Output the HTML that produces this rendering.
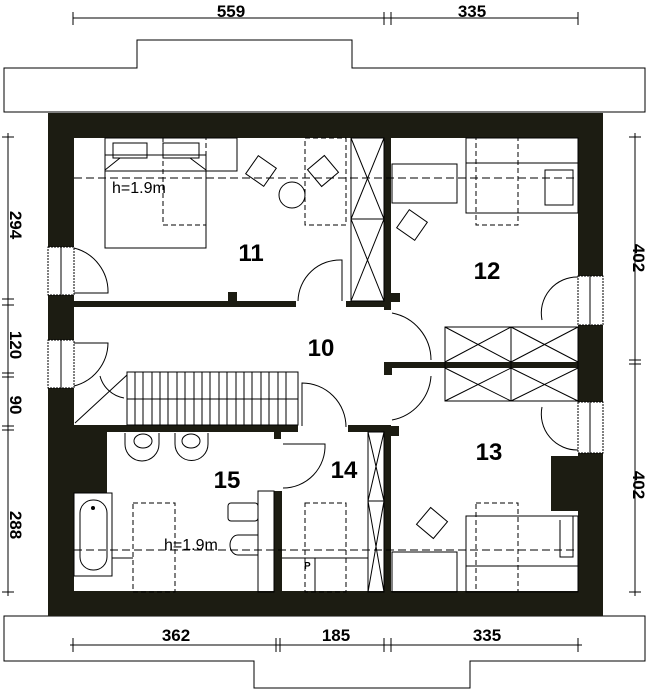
<!DOCTYPE html>
<html><head><meta charset="utf-8"><style>
html,body{margin:0;padding:0;background:#fff;}
svg{display:block}
.d{font-family:"Liberation Sans Narrow","Liberation Sans",sans-serif;font-weight:bold;font-size:17px;fill:#000}
.r{font-family:"Liberation Sans Narrow","Liberation Sans",sans-serif;font-weight:bold;font-size:24px;fill:#000}
</style></head><body>
<svg width="653" height="690" viewBox="0 0 653 690" xmlns="http://www.w3.org/2000/svg">
<g fill="none" stroke="#000" stroke-width="1">
<!-- roof top -->
<path d="M4,68 H137 V40 H352 V68 H645 V112 H4 Z" fill="#fff"/>
<!-- roof bottom -->
<path d="M4,616 H645 V661 H470 V688 H254 V661 H4 Z" fill="#fff"/>
<!-- top dims -->
<line x1="73" y1="18" x2="578" y2="18"/>
<line x1="73" y1="12" x2="73" y2="25"/><line x1="384" y1="12" x2="384" y2="25"/><line x1="391" y1="12" x2="391" y2="25"/><line x1="578" y1="12" x2="578" y2="25"/>
<!-- bottom dims -->
<line x1="70" y1="645" x2="582" y2="645"/>
<line x1="73" y1="638" x2="73" y2="652"/><line x1="276" y1="638" x2="276" y2="652"/><line x1="280" y1="638" x2="280" y2="652"/><line x1="384" y1="638" x2="384" y2="652"/><line x1="391" y1="638" x2="391" y2="652"/><line x1="578" y1="638" x2="578" y2="652"/>
<!-- left dims -->
<line x1="8" y1="133" x2="8" y2="596"/>
<line x1="2" y1="137" x2="14" y2="137"/><line x1="2" y1="299" x2="14" y2="299"/><line x1="2" y1="305" x2="14" y2="305"/><line x1="2" y1="373" x2="14" y2="373"/><line x1="2" y1="377" x2="14" y2="377"/><line x1="2" y1="426" x2="14" y2="426"/><line x1="2" y1="430" x2="14" y2="430"/><line x1="2" y1="592" x2="14" y2="592"/>
<!-- right dims -->
<line x1="635" y1="133" x2="635" y2="596"/>
<line x1="629" y1="137" x2="641" y2="137"/><line x1="629" y1="360" x2="641" y2="360"/><line x1="629" y1="364" x2="641" y2="364"/><line x1="629" y1="592" x2="641" y2="592"/>
</g>
<g class="d" text-anchor="middle">
<text x="231" y="17">559</text><text x="472" y="17">335</text>
<text x="176" y="641">362</text><text x="336" y="641">185</text><text x="487" y="641">335</text>
<text transform="translate(10,225) rotate(90)">294</text>
<text transform="translate(10,345) rotate(90)">120</text>
<text transform="translate(10,405) rotate(90)">90</text>
<text transform="translate(10,525) rotate(90)">288</text>
<text transform="translate(633,258) rotate(90)">402</text>
<text transform="translate(633,485) rotate(90)">402</text>
</g>
<!-- outer walls -->
<g fill="#1c1c12">
<rect x="48" y="113" width="555" height="25"/>
<rect x="48" y="591" width="555" height="25"/>
<rect x="48" y="113" width="26" height="134"/>
<rect x="48" y="295" width="26" height="45"/>
<rect x="48" y="388" width="26" height="228"/>
<rect x="578" y="113" width="25" height="163"/>
<rect x="578" y="325" width="25" height="77"/>
<rect x="578" y="453" width="25" height="163"/>
<rect x="551" y="456" width="27" height="55"/>
<!-- interior -->
<rect x="384" y="138" width="7" height="172"/>
<rect x="74" y="301" width="222" height="6"/>
<rect x="346" y="301" width="38" height="6"/>
<rect x="228" y="292" width="9" height="9"/>
<rect x="391" y="293" width="9" height="9"/>
<rect x="384" y="362" width="194" height="6"/>
<rect x="384" y="362" width="8" height="13"/>
<rect x="384" y="425" width="7" height="167"/>
<rect x="391" y="426" width="8" height="10"/>
<rect x="74" y="425" width="224" height="7"/>
<rect x="348" y="425" width="43" height="7"/>
<rect x="74" y="432" width="33" height="61"/>
<rect x="274" y="491" width="8" height="101"/>
<rect x="274" y="429" width="7" height="10"/>
</g>
<g fill="none" stroke="#000" stroke-width="1">
<!-- windows -->
<rect x="48" y="247" width="26" height="48" stroke-dasharray="2,1"/><line x1="61" y1="247" x2="61" y2="295"/>
<rect x="48" y="340" width="26" height="48" stroke-dasharray="2,1"/><line x1="61" y1="340" x2="61" y2="388"/>
<rect x="578" y="276" width="25" height="49" stroke-dasharray="2,1"/><line x1="590" y1="276" x2="590" y2="325"/>
<rect x="578" y="402" width="25" height="51" stroke-dasharray="2,1"/><line x1="590" y1="402" x2="590" y2="453"/>
<path d="M74,248 A45 45 0 0 1 108,293 H74"/>
<path d="M74,343 H108 A45 45 0 0 1 74,386"/>
<path d="M578,277 A36 36 0 0 0 542,320"/>
<path d="M542,407 A36 36 0 0 0 578,450"/>
<!-- doors -->
<path d="M342,301 V260 A42 42 0 0 0 298,301"/>
<path d="M392,313 A48 48 0 0 1 431,360"/>
<path d="M431,376 A48 48 0 0 1 392,420"/>
<path d="M302,426 V383 A44 44 0 0 1 346,427"/>
<path d="M283,444 H325 A42 42 0 0 1 283,488"/>
<!-- wardrobes -->
<rect x="351" y="138" width="33" height="163"/><line x1="351" y1="219" x2="384" y2="219"/>
<path d="M351,138 L384,219 M384,138 L351,219 M351,219 L384,301 M384,219 L351,301"/>
<rect x="445" y="327" width="133" height="74"/><line x1="511" y1="327" x2="511" y2="401"/>
<path d="M445,327 L511,362 M511,327 L445,362 M511,327 L578,362 M578,327 L511,362 M445,368 L511,401 M511,368 L445,401 M511,368 L578,401 M578,368 L511,401"/>
<rect x="368" y="432" width="16" height="160"/><line x1="368" y1="501" x2="384" y2="501"/>
<path d="M368,432 L384,501 M384,432 L368,501 M368,501 L384,592 M384,501 L368,592"/>
<!-- stairs -->
<rect x="127" y="372" width="171" height="53"/>
<line x1="127" y1="399" x2="298" y2="399"/>
<path d="M135,372V425M143,372V425M152,372V425M160,372V425M168,372V425M177,372V425M185,372V425M194,372V425M202,372V425M210,372V425M219,372V425M227,372V425M236,372V425M244,372V425M252,372V425M261,372V425M269,372V425M278,372V425M286,372V425"/>
<line x1="75" y1="423" x2="127" y2="375"/>
<path d="M100,376 A30 30 0 0 0 124,398"/>
<!-- room 11 furniture -->
<rect x="105" y="155" width="101" height="93"/>
<rect x="113" y="143" width="34" height="15"/><rect x="163" y="143" width="36" height="15"/>
<path d="M105,170 L120,158 M206,170 L190,158"/>
<rect x="105" y="138" width="132" height="33"/>
<rect x="163" y="138" width="43" height="87" stroke-dasharray="5,3"/>
<rect x="305" y="138" width="41" height="87" stroke-dasharray="5,3"/>
<circle cx="292" cy="195" r="13"/>
<rect x="250" y="160" width="22" height="22" transform="rotate(35 261 171)"/>
<rect x="312" y="160" width="22" height="22" transform="rotate(-40 323 171)"/>
<!-- room 12 -->
<rect x="392" y="164" width="65" height="39"/>
<rect x="466" y="138" width="112" height="75"/><line x1="466" y1="163" x2="578" y2="163"/>
<rect x="476" y="138" width="42" height="87" stroke-dasharray="5,3"/>
<path d="M545,170 H573 V205 H545 Z"/>
<rect x="401" y="214" width="22" height="22" transform="rotate(35 412 225)"/>
<!-- h line dashed -->
<line x1="74" y1="178" x2="578" y2="178" stroke-dasharray="8,4"/>
<line x1="74" y1="550" x2="578" y2="550" stroke-dasharray="8,4"/>
<!-- bathroom -->
<path d="M125,433 V444 A14 14 0 0 0 159,444 V433"/><ellipse cx="143" cy="441" rx="9" ry="7"/>
<path d="M175,433 V444 A14 14 0 0 0 208,444 V433"/><ellipse cx="191" cy="441" rx="9" ry="7"/>
<rect x="74" y="493" width="38" height="83"/>
<rect x="80" y="500" width="27" height="70" rx="13"/>
<rect x="228" y="503" width="30" height="18" rx="3"/>
<path d="M258,535 H238 A8 10 0 0 0 238,555 H258 Z"/>
<rect x="258" y="491" width="16" height="101"/>
<rect x="133" y="503" width="42" height="89" stroke-dasharray="5,3"/>
<rect x="305" y="503" width="41" height="89" stroke-dasharray="5,3"/>
<line x1="112" y1="558" x2="133" y2="558"/>
<line x1="282" y1="558" x2="368" y2="558"/><line x1="315" y1="558" x2="315" y2="592"/>
<!-- room 13 -->
<rect x="392" y="552" width="65" height="40"/>
<rect x="466" y="516" width="112" height="76"/><line x1="466" y1="566" x2="578" y2="566"/>
<rect x="476" y="503" width="42" height="89" stroke-dasharray="5,3"/>
<path d="M545,516 H573 V557 H560 V520"/>
<rect x="421" y="512" width="22" height="22" transform="rotate(40 432 523)"/>
</g>
<circle cx="93" cy="508" r="2"/>
<g font-family="Liberation Sans Narrow, Liberation Sans, sans-serif" font-size="16" fill="#000">
<text x="112" y="193">h=1.9m</text>
<text x="164" y="550">h=1.9m</text>
</g>
<text x="304" y="569" font-family="Liberation Sans" font-weight="bold" font-size="10">P</text>
<g class="r" text-anchor="middle">
<text x="251" y="261">11</text><text x="487" y="279">12</text><text x="321" y="356">10</text>
<text x="489" y="460">13</text><text x="344" y="478">14</text><text x="227" y="488">15</text>
</g>
</svg>
</body></html>
